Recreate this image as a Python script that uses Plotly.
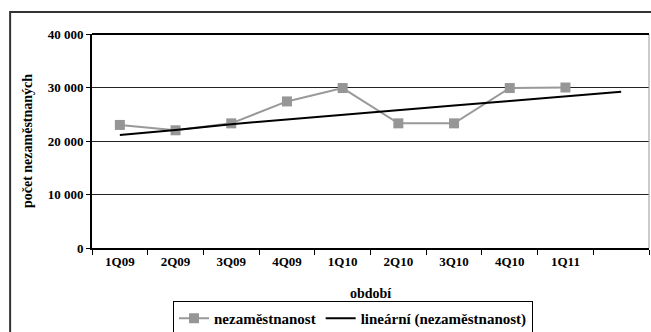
import plotly.graph_objects as go

# Quarterly periods (the last slot only carries the trend forecast)
periods = ["1Q09", "2Q09", "3Q09", "4Q09", "1Q10", "2Q10", "3Q10", "4Q10", "1Q11", " "]
unemployed = [23000, 22000, 23300, 27400, 29900, 23300, 23300, 29900, 30000]
trend = [21100, 22050, 23150, 24050, 24950, 25800, 26650, 27500, 28350, 29200]
y_ticks = [0, 10000, 20000, 30000, 40000]

FONT = "Liberation Serif"

fig = go.Figure()
fig.add_trace(go.Scatter(
    x=periods[:len(unemployed)], y=unemployed, mode="lines+markers",
    name="nezaměstnanost",
    line=dict(color="#999999", width=2),
    marker=dict(symbol="square", size=10, color="#969696"),
))
fig.add_trace(go.Scatter(
    x=periods, y=trend, mode="lines",
    name="lineární (nezaměstnanost)",
    line=dict(color="#000000", width=2),
))

fig.update_layout(
    width=651, height=332,
    margin=dict(l=92, r=2, t=34, b=84, autoexpand=False),
    paper_bgcolor="white", plot_bgcolor="white",
    separators=", ",
    font=dict(family=FONT, size=13, color="black", weight="bold"),
    showlegend=True,
    legend=dict(
        orientation="h", xref="container", yref="container",
        x=173 / 651, xanchor="left", y=(332 - 301) / 332, yanchor="top",
        bordercolor="black", borderwidth=1, bgcolor="white",
        font=dict(family=FONT, size=15, weight="bold"), itemwidth=30,
        tracegroupgap=0,
    ),
    xaxis=dict(
        type="category", categoryorder="array", categoryarray=periods,
        range=[-0.5, len(periods) - 0.5], automargin=False,
        tickson="boundaries", ticks="outside", ticklen=5, tickcolor="black",
        showgrid=False, showline=True, linecolor="black", linewidth=2,
        tickfont=dict(family=FONT, size=13, weight="bold"),
        title=dict(text="období", font=dict(family=FONT, size=14, weight="bold"), standoff=22),
        fixedrange=True,
    ),
    yaxis=dict(
        range=[0, 40000], tickvals=y_ticks, tickformat=",d", automargin=False,
        ticks="outside", ticklen=4, tickcolor="black",
        showgrid=True, gridcolor="#222222", gridwidth=1,
        zeroline=False,
        showline=True, linecolor="black", linewidth=2,
        tickfont=dict(family=FONT, size=13, weight="bold"),
        title=dict(text="počet nezaměstnaných", font=dict(family=FONT, size=14, weight="bold"), standoff=12),
        fixedrange=True,
    ),
    shapes=[
        # chart frame
        dict(type="rect", xref="paper", yref="paper",
             x0=-0.147, x1=1.2, y0=-0.5, y1=1.103,
             line=dict(color="#333333", width=2), layer="below"),
        # plot area right edge
        dict(type="line", xref="paper", yref="paper", x0=1, x1=1, y0=0, y1=1,
             line=dict(color="#999999", width=1)),
        # plot area top edge
        dict(type="line", xref="paper", yref="paper", x0=0, x1=1, y0=1, y1=1,
             line=dict(color="black", width=2)),
    ],
)

fig.write_html("out.html")
